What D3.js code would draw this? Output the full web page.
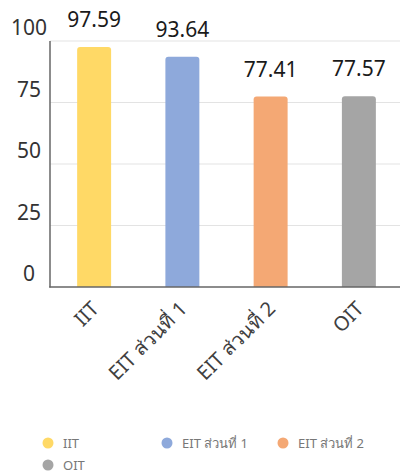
<!DOCTYPE html>
<html>
<head>
<meta charset="utf-8">
<script src="https://cdn.jsdelivr.net/npm/d3@7"></script>
<style>
html,body{margin:0;padding:0;background:#fff;}
svg{display:block;font-family:"Noto Sans","DejaVu Sans",sans-serif;}
</style>
</head>
<body>
<svg id="chart" width="400" height="472"></svg>
<script>
const categories = ["IIT", "EIT ส่วนที่ 1", "EIT ส่วนที่ 2", "OIT"];
const values = [97.59, 93.64, 77.41, 77.57];
const colors = ["#FFD966", "#8EA9DB", "#F4A874", "#A5A5A5"];
const yTicks = [0, 25, 50, 75, 100];

const svg = d3.select("#chart");
const y = d3.scaleLinear().domain([0, 100]).range([287, 41]);
const x = d3.scaleBand().domain(categories).range([50, 403]).paddingInner(0.615).paddingOuter(0.3075);

// gridlines
svg.append("g").selectAll("line").data(yTicks.filter(d => d > 0)).join("line")
  .attr("x1", 50).attr("x2", 400)
  .attr("y1", d => y(d)).attr("y2", d => y(d))
  .attr("stroke", "#e3e3e3").attr("stroke-width", 1);

// y tick labels
svg.append("g").selectAll("text").data(yTicks).join("text")
  .attr("x", 29).attr("y", d => y(d) - 6)
  .attr("text-anchor", "middle")
  .attr("font-size", 21).attr("fill", "#333")
  .text(d => d);

// bars with rounded top
const r = 3;
svg.append("g").selectAll("path").data(categories).join("path")
  .attr("d", (c, i) => {
    const x0 = x(c), w = x.bandwidth(), y0 = y(values[i]), yb = y(0);
    return `M${x0},${yb}V${y0 + r}Q${x0},${y0} ${x0 + r},${y0}H${x0 + w - r}Q${x0 + w},${y0} ${x0 + w},${y0 + r}V${yb}Z`;
  })
  .attr("fill", (c, i) => colors[i]);

// axes lines
svg.append("line").attr("x1", 50).attr("x2", 50).attr("y1", 41).attr("y2", 287.5)
  .attr("stroke", "#666").attr("stroke-width", 1.5);
svg.append("line").attr("x1", 49.25).attr("x2", 400).attr("y1", 287).attr("y2", 287)
  .attr("stroke", "#666").attr("stroke-width", 1.5);

// value labels
svg.append("g").selectAll("text").data(categories).join("text")
  .attr("x", c => x(c) + x.bandwidth() / 2)
  .attr("y", (c, i) => y(values[i]) - 20)
  .attr("text-anchor", "middle")
  .attr("font-size", 21).attr("fill", "#1a1a1a")
  .text((c, i) => values[i].toFixed(2));

// x labels
svg.append("g").selectAll("text").data(categories).join("text")
  .attr("transform", c => `translate(${x(c) + x.bandwidth() / 2 + 6},${310}) rotate(-45)`)
  .attr("text-anchor", "end")
  .attr("font-size", 20).attr("fill", "#404040")
  .text(c => c);

// legend
const legendPos = [[48, 443], [167, 443], [283, 443], [48, 465]];
const lg = svg.append("g").selectAll("g").data(categories).join("g")
  .attr("transform", (c, i) => `translate(${legendPos[i][0]},${legendPos[i][1]})`);
lg.append("circle").attr("r", 5.5).attr("fill", (c, i) => colors[i]);
lg.append("text").attr("x", 15).attr("y", 4.5)
  .attr("font-size", 13).attr("fill", "#777")
  .text(c => c);
</script>
</body>
</html>
